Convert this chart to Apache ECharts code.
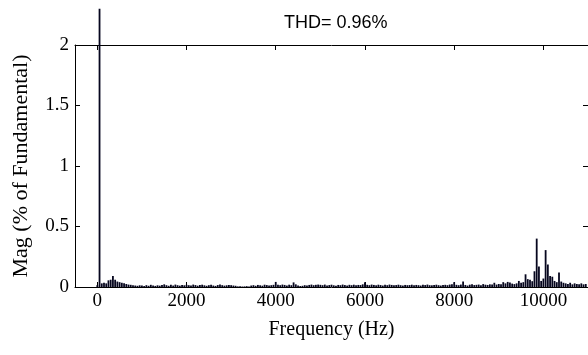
<!DOCTYPE html>
<html>
<head>
<meta charset="utf-8">
<script src="https://cdn.jsdelivr.net/npm/echarts@6/dist/echarts.min.js"></script>
<style>
html,body{margin:0;padding:0;background:#fff;}
#chart{width:588px;height:355px;}
</style>
</head>
<body>
<div id="chart"></div>
<script>
// Frequency bins (Hz)
const freqs = [
  0,50,100,150,200,250,300,350,400,450,500,550,600,650,700,750,800,850,900,950,
  1000,1050,1100,1150,1200,1250,1300,1350,1400,1450,1500,1550,1600,1650,1700,1750,1800,1850,1900,1950,
  2000,2050,2100,2150,2200,2250,2300,2350,2400,2450,2500,2550,2600,2650,2700,2750,2800,2850,2900,2950,
  3000,3050,3100,3150,3200,3250,3300,3350,3400,3450,3500,3550,3600,3650,3700,3750,3800,3850,3900,3950,
  4000,4050,4100,4150,4200,4250,4300,4350,4400,4450,4500,4550,4600,4650,4700,4750,4800,4850,4900,4950,
  5000,5050,5100,5150,5200,5250,5300,5350,5400,5450,5500,5550,5600,5650,5700,5750,5800,5850,5900,5950,
  6000,6050,6100,6150,6200,6250,6300,6350,6400,6450,6500,6550,6600,6650,6700,6750,6800,6850,6900,6950,
  7000,7050,7100,7150,7200,7250,7300,7350,7400,7450,7500,7550,7600,7650,7700,7750,7800,7850,7900,7950,
  8000,8050,8100,8150,8200,8250,8300,8350,8400,8450,8500,8550,8600,8650,8700,8750,8800,8850,8900,8950,
  9000,9050,9100,9150,9200,9250,9300,9350,9400,9450,9500,9550,9600,9650,9700,9750,9800,9850,9900,9950,
  10000,10050,10100,10150,10200,10250,10300,10350,10400,10450,10500,10550,10600,10650,10700,10750,10800,10850,10900,10950
];
// Magnitude (% of fundamental); fundamental bar drawn to the height visible in the picture
const mags = [
  0.015,2.3,0.03,0.035,0.03,0.055,0.06,0.09,0.06,0.045,0.04,0.035,0.03,0.025,0.02,0.018,0.015,0.012,0.01,0.014,
  0.012,0.008,0.015,0.01,0.018,0.012,0.009,0.014,0.011,0.017,0.022,0.015,0.01,0.018,0.012,0.02,0.015,0.011,0.016,0.014,
  0.018,0.015,0.012,0.02,0.016,0.011,0.017,0.019,0.014,0.01,0.015,0.018,0.012,0.009,0.016,0.02,0.015,0.011,0.014,0.017,
  0.015,0.012,0.01,0.005,0.006,0.004,0.005,0.007,0.005,0.012,0.015,0.01,0.017,0.014,0.011,0.019,0.016,0.012,0.015,0.018,
  0.042,0.018,0.015,0.02,0.017,0.012,0.019,0.015,0.038,0.022,0.012,0.008,0.01,0.015,0.012,0.017,0.02,0.015,0.018,0.02,
  0.018,0.015,0.02,0.012,0.016,0.019,0.014,0.011,0.017,0.015,0.02,0.016,0.012,0.018,0.015,0.019,0.014,0.017,0.016,0.022,
  0.04,0.018,0.015,0.02,0.017,0.014,0.019,0.016,0.012,0.018,0.015,0.02,0.017,0.014,0.016,0.019,0.015,0.012,0.017,0.015,
  0.016,0.019,0.014,0.017,0.015,0.012,0.018,0.016,0.02,0.015,0.014,0.017,0.019,0.015,0.012,0.016,0.018,0.015,0.02,0.022,
  0.04,0.018,0.015,0.02,0.045,0.017,0.012,0.019,0.022,0.016,0.018,0.02,0.015,0.024,0.019,0.017,0.022,0.02,0.035,0.02,
  0.025,0.022,0.04,0.03,0.042,0.038,0.028,0.024,0.03,0.05,0.035,0.04,0.105,0.065,0.06,0.048,0.13,0.40,0.17,0.05,
  0.07,0.305,0.186,0.09,0.085,0.05,0.04,0.12,0.045,0.035,0.03,0.025,0.035,0.022,0.03,0.025,0.022,0.03,0.022,0.025
];
const xTicks = [0, 2000, 4000, 6000, 8000, 10000];
const titleText = 'THD= 0.96%';
const xName = 'Frequency (Hz)';
const yName = 'Mag (% of Fundamental)';

const data = freqs.map((f, i) => [f, mags[i]]);
const serif = 'Liberation Serif';
const chart = echarts.init(document.getElementById('chart'), null, {renderer: 'canvas'});
const tickStyle = {lineStyle: {color: '#000', width: 1}};
chart.setOption({
  animation: false,
  backgroundColor: '#fff',
  title: {
    text: titleText, left: 279, top: 9,
    textStyle: {fontFamily: 'Liberation Sans', fontSize: 18, fontWeight: 'normal', color: '#000'}
  },
  grid: {left: 75, top: 45, width: 517.5, height: 242, containLabel: false},
  xAxis: [{
    type: 'value', min: -500, max: 11000, position: 'bottom',
    axisLine: {show: true, onZero: false, lineStyle: {color: '#000', width: 1}},
    axisTick: Object.assign({show: true, inside: true, length: 5, customValues: xTicks}, tickStyle),
    axisLabel: {customValues: xTicks, formatter: (v) => String(v), fontFamily: serif, fontSize: 19, color: '#000', margin: 5},
    splitLine: {show: false},
    name: xName, nameLocation: 'middle', nameGap: 33,
    nameTextStyle: {fontFamily: serif, fontSize: 20, color: '#000'}
  }, {
    type: 'value', min: -500, max: 11000, position: 'top',
    axisLine: {show: true, onZero: false, lineStyle: {color: '#000', width: 1}},
    axisTick: Object.assign({show: true, inside: true, length: 5, customValues: xTicks}, tickStyle),
    axisLabel: {show: false},
    splitLine: {show: false}
  }],
  yAxis: [{
    type: 'value', min: 0, max: 2, interval: 0.5, position: 'left',
    axisLine: {show: true, onZero: false, lineStyle: {color: '#000', width: 1}},
    axisTick: Object.assign({show: true, inside: true, length: 5}, tickStyle),
    axisLabel: {fontFamily: serif, fontSize: 19, color: '#000', margin: 6},
    splitLine: {show: false},
    name: yName, nameLocation: 'middle', nameGap: 43,
    nameTextStyle: {fontFamily: serif, fontSize: 22, color: '#000'}
  }, {
    type: 'value', min: 0, max: 2, interval: 0.5, position: 'right',
    axisLine: {show: true, onZero: false, lineStyle: {color: '#000', width: 1}},
    axisTick: Object.assign({show: true, inside: true, length: 5}, tickStyle),
    axisLabel: {show: false},
    splitLine: {show: false}
  }],
  series: [{
    type: 'bar', xAxisIndex: 0, yAxisIndex: 0,
    data: data, barWidth: 1.8, clip: false,
    itemStyle: {color: '#06061e'}
  }]
});
</script>
</body>
</html>
